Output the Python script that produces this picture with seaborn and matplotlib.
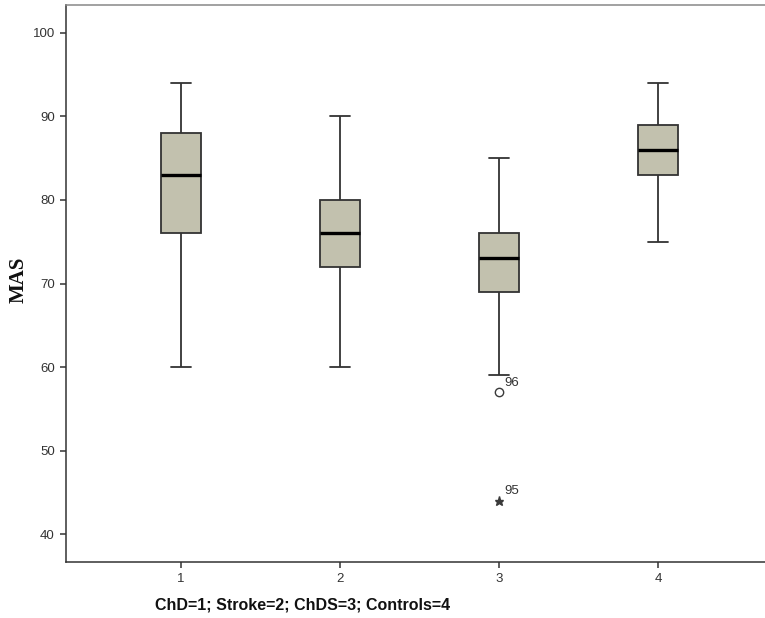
import pandas as pd
import matplotlib.pyplot as plt
import seaborn as sns

# five-number summaries
groups = ['1', '2', '3', '4']
whisker_low = [60, 60, 59, 75]
q1 = [76, 72, 69, 83]
median = [83, 76, 73, 86]
q3 = [88, 80, 76, 89]
whisker_high = [94, 90, 85, 94]

# outliers (circle = outlier, star = extreme), with case numbers
outlier_group = ['3', '3']
outlier_mas = [57, 44]
outlier_case = ['96', '95']
outlier_marker = ['o', '*']

rows = []
for i, g in enumerate(groups):
    for v in (whisker_low[i], q1[i], median[i], q3[i], whisker_high[i]):
        rows.append({'group': g, 'MAS': v})
data = pd.DataFrame(rows)

sns.set_style('ticks')
plt.rcParams['font.family'] = ['Liberation Sans', 'DejaVu Sans']

fig = plt.figure(figsize=(7.65, 6.18), dpi=100)
ax = fig.add_axes([0.0863, 0.0906, 0.9137, 0.9013])

sns.boxplot(data=data, x='group', y='MAS', order=groups, whis=(0, 100),
            width=0.25, color='#c2c1ae', saturation=1, showfliers=False,
            linecolor='#333333', linewidth=1.3,
            medianprops={'color': 'black', 'linewidth': 2.4}, ax=ax)

for g, v, c, m in zip(outlier_group, outlier_mas, outlier_case, outlier_marker):
    x = groups.index(g)
    if m == 'o':
        ax.plot(x, v, marker='o', ms=6, mfc='none', mec='#3a3a3a', mew=1.0, ls='none')
    else:
        ax.plot(x, v, marker='*', ms=6.5, mfc='#3a3a3a', mec='#3a3a3a', ls='none')
    ax.annotate(c, (x, v), xytext=(4, 4.5), textcoords='offset points',
                fontsize=9.5, color='#333333', va='baseline')

ax.set_xlim(-0.723, 3.673)
ax.set_ylim(36.65, 103.35)
ax.set_yticks([40, 50, 60, 70, 80, 90, 100])

ax.tick_params(direction='out', length=4.5, width=1.1, colors='#333333', labelsize=9.5)
for side in ['left', 'bottom']:
    ax.spines[side].set_color('#333333')
    ax.spines[side].set_linewidth(1.1)
ax.spines['top'].set_color('#888888')
ax.spines['top'].set_linewidth(1.1)
ax.spines['right'].set_visible(False)

ax.set_xlabel('ChD=1; Stroke=2; ChDS=3; Controls=4', fontsize=11.5,
              fontweight='bold', color='#111111')
ax.xaxis.set_label_coords(0.339, -0.0646)
ax.set_ylabel('MAS', fontsize=15, fontweight='bold', family='Liberation Serif',
              color='#111111')
ax.yaxis.set_label_coords(-0.053, 0.506)

fig.savefig('out.png', dpi=100)
